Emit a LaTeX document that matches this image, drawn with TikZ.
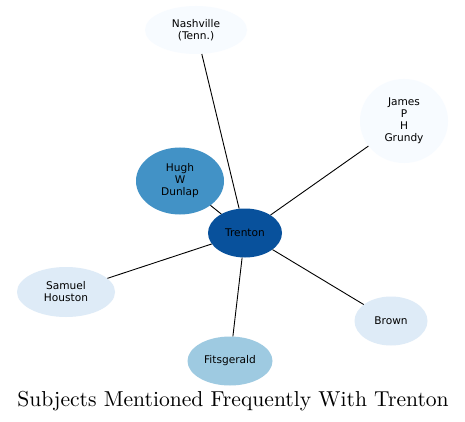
\documentclass[tikz,border=0pt]{standalone}
\usepackage{fontspec}
\newfontfamily\nodefont{DejaVu Sans}
\newfontfamily\titlefont{lmroman10-regular}[Extension=.otf]
\usetikzlibrary{shapes.geometric}
\definecolor{c0}{HTML}{F7FBFF}
\definecolor{c1}{HTML}{DEEBF7}
\definecolor{c2}{HTML}{9ECAE1}
\definecolor{c3}{HTML}{4292C6}
\definecolor{c4}{HTML}{08519C}
\tikzset{
  ent/.style={ellipse, inner sep=0pt, align=center, font=\nodefont\fontsize{10.6}{12}\selectfont, text=black},
  link/.style={draw=black, line width=0.9pt}
}
\begin{document}
\begin{tikzpicture}[x=1pt,y=-1pt]
\path[use as bounding box, fill=white] (0,0) rectangle (465,422);
\node[ent, fill=c0, minimum width=102, minimum height=48] (nash) at (196,30) {Nashville\\(Tenn.)};
\node[ent, fill=c0, minimum width=88, minimum height=84] (grundy) at (404,121) {James\\P\\H\\Grundy};
\node[ent, fill=c3, minimum width=88, minimum height=67] (hugh) at (180,181) {Hugh\\W\\Dunlap};
\node[ent, fill=c4, minimum width=74, minimum height=49] (trenton) at (245,233) {Trenton};
\node[ent, fill=c1, minimum width=98, minimum height=50] (houston) at (66,292) {Samuel\\Houston};
\node[ent, fill=c1, minimum width=73, minimum height=49] (brown) at (391,321) {Brown};
\node[ent, fill=c2, minimum width=85, minimum height=49] (fits) at (230,361) {Fitsgerald};
\node[font=\titlefont\fontsize{21.6}{26}\selectfont] (title) at (233,401) {Subjects Mentioned Frequently With Trenton};
\draw[link] (nash) -- (trenton);
\draw[link] (grundy) -- (trenton);
\draw[link] (hugh) -- (trenton);
\draw[link] (houston) -- (trenton);
\draw[link] (brown) -- (trenton);
\draw[link] (fits) -- (trenton);
\end{tikzpicture}
\end{document}
